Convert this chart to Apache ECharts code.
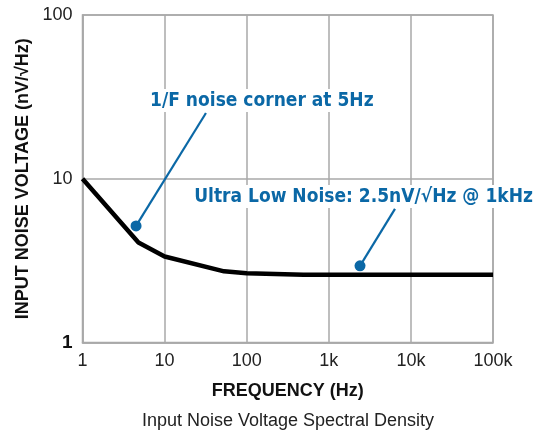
<!DOCTYPE html>
<html>
<head>
<meta charset="utf-8">
<script src="https://cdn.jsdelivr.net/npm/echarts@6/dist/echarts.min.js"></script>
<style>
  html, body { margin: 0; padding: 0; background: #fff; }
  #chart { width: 545px; height: 431px; }
</style>
</head>
<body>
<div id="chart"></div>
<script>
// Input noise voltage spectral density (nV/√Hz) vs frequency (Hz)
const freq  = [1, 4.8, 10, 53, 100, 490, 100000];
const noise = [10, 4.08, 3.35, 2.72, 2.65, 2.59, 2.59];

// Axis tick labels
const xTicks = { 1: '1', 10: '10', 100: '100', 1000: '1k', 10000: '10k', 100000: '100k' };
const yTicks = { 1: '1', 10: '10', 100: '100' };

// Callouts: text, text anchor, leader start (near text) and end dot
const noteText   = ['1/F noise corner at 5Hz', 'Ultra Low Noise: 2.5nV/√Hz @ 1kHz'];
const noteAnchor = [[153, 30], [2650, 7.78]];
const leaderTop  = [[31.9, 25.2], [6400, 6.54]];
const leaderDot  = [[4.49, 5.15], [2400, 2.94]];

const blue = '#0b68a6';
const grid = '#a9a9a9';
const font = 'Liberation Sans, Arial, sans-serif';
const noteFont = '"DejaVu Sans Condensed", "Liberation Sans Narrow", Roboto, sans-serif';

const series = [
  {
    type: 'line',
    data: freq.map((f, i) => [f, noise[i]]),
    symbol: 'none',
    lineStyle: { color: '#000', width: 4.5 },
    z: 3
  }
];

leaderTop.forEach((p, i) => {
  series.push({
    type: 'line',
    data: [p, leaderDot[i]],
    symbol: 'none',
    lineStyle: { color: blue, width: 2.2 },
    z: 4
  });
});

series.push({
  type: 'scatter',
  data: leaderDot,
  symbol: 'circle',
  symbolSize: 11,
  itemStyle: { color: blue, opacity: 1 },
  z: 5
});

series.push({
  type: 'scatter',
  data: noteAnchor.map((p, i) => ({ value: p, name: noteText[i] })),
  symbolSize: 0,
  itemStyle: { opacity: 1 },
  label: {
    show: true,
    position: 'inside',
    formatter: p => p.name,
    color: blue,
    opacity: 1,
    fontFamily: noteFont,
    fontWeight: 'bold',
    fontSize: 19,
    backgroundColor: '#fff',
    padding: [2, 3]
  },
  z: 6
});

const chart = echarts.init(document.getElementById('chart'), null, { renderer: 'canvas' });
chart.setOption({
  animation: false,
  backgroundColor: '#fff',
  title: {
    text: 'Input Noise Voltage Spectral Density',
    left: 288,
    textAlign: 'center',
    top: 412,
    padding: 0,
    textStyle: { fontFamily: font, fontWeight: 'normal', fontSize: 18, color: '#222' }
  },
  grid: {
    left: 82.5, right: 52, top: 15, bottom: 88.5,
    show: true, borderColor: grid, borderWidth: 1.5
  },
  xAxis: {
    type: 'log', logBase: 10, min: 1, max: 100000,
    name: 'FREQUENCY (Hz)',
    nameLocation: 'middle',
    nameGap: 40,
    nameTextStyle: { fontFamily: font, fontWeight: 'bold', fontSize: 18, color: '#111' },
    axisLine: { lineStyle: { color: grid, width: 1.5 } },
    axisTick: { show: false },
    splitLine: { show: true, lineStyle: { color: grid, width: 1.5 } },
    minorTick: { show: false },
    axisLabel: {
      margin: 10,
      fontFamily: font, fontSize: 18, color: '#222',
      formatter: v => xTicks[Math.round(v)] || ''
    }
  },
  yAxis: {
    type: 'log', logBase: 10, min: 1, max: 100,
    name: 'INPUT NOISE VOLTAGE (nV/√Hz)',
    nameLocation: 'middle',
    nameRotate: 90,
    nameGap: 44,
    nameTextStyle: { fontFamily: font, fontWeight: 'bold', fontSize: 18, color: '#111' },
    axisLine: { show: true, lineStyle: { color: grid, width: 1.5 } },
    axisTick: { show: false },
    splitLine: { show: true, lineStyle: { color: grid, width: 1.5 } },
    axisLabel: {
      margin: 10,
      fontFamily: font, fontSize: 18, color: '#222',
      formatter: v => {
        const t = yTicks[Math.round(v)] || '';
        return Math.round(v) === 1 ? '{b|' + t + '}' : t;
      },
      rich: { b: { fontFamily: font, fontWeight: 'bold', fontSize: 19, color: '#111' } }
    }
  },
  series: series
});
</script>
</body>
</html>
